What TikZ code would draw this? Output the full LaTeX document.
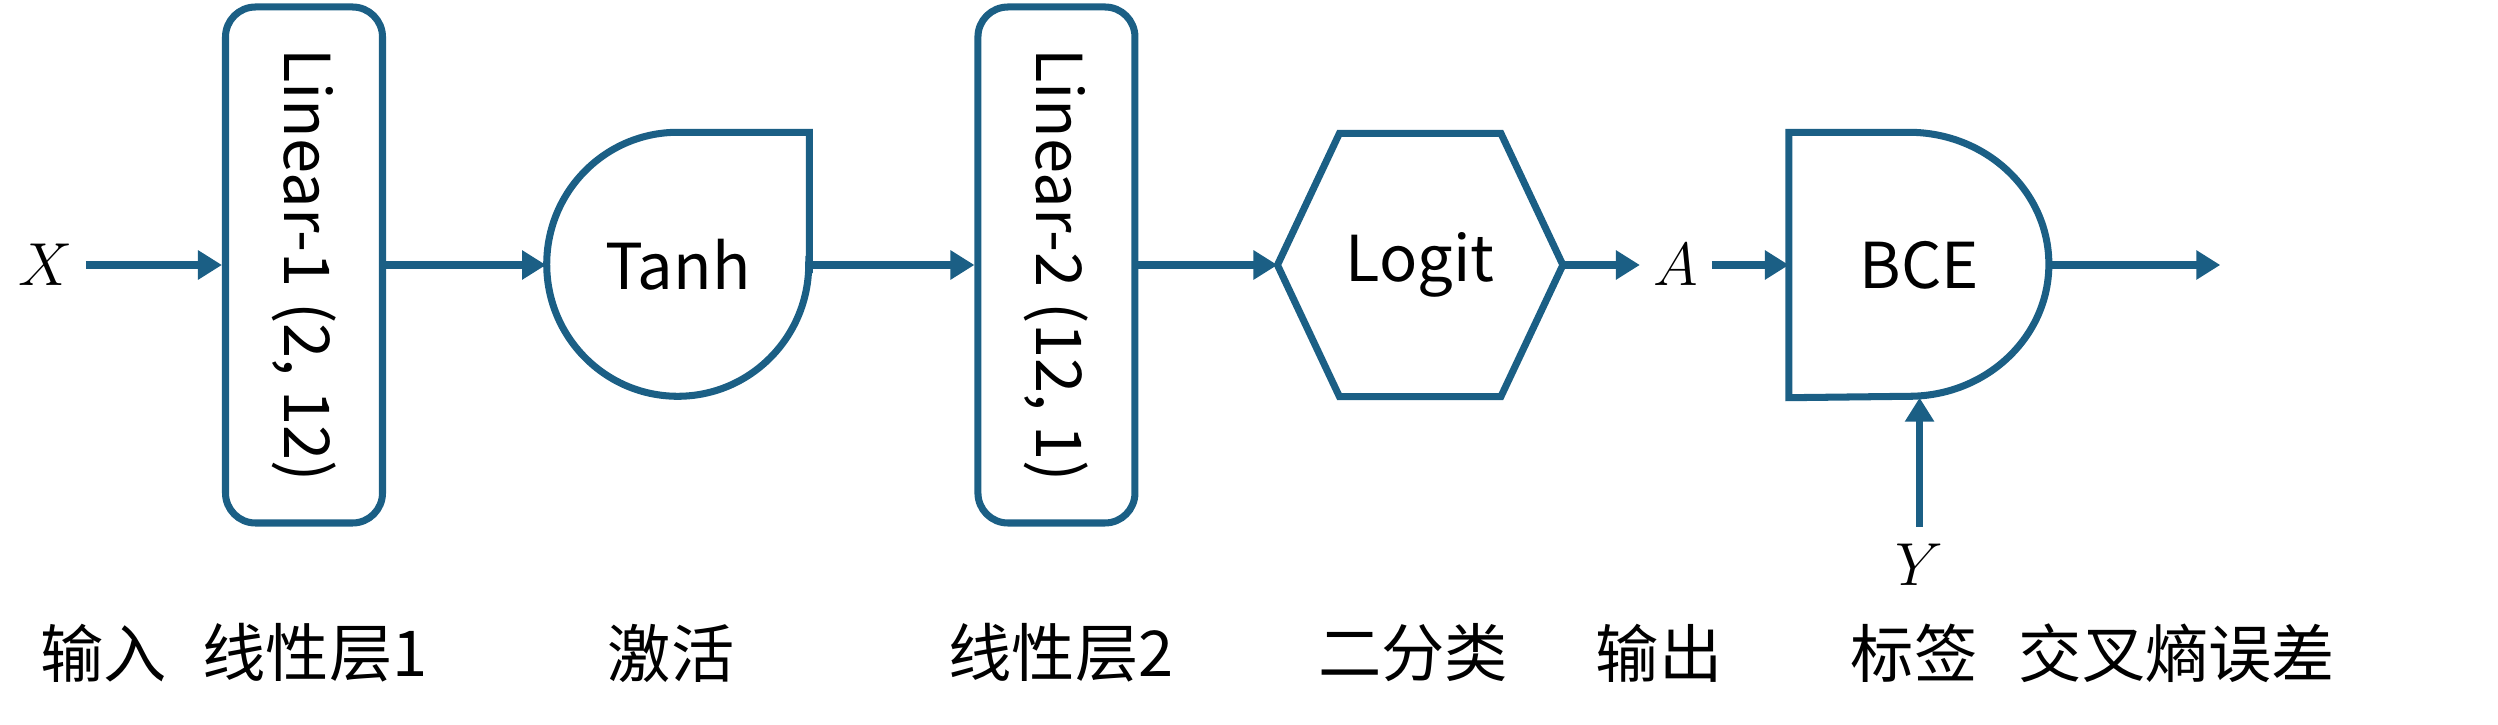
\documentclass[tikz,border=0pt]{standalone}
\usepackage{fontspec}
\setmainfont{Noto Sans CJK SC}
\usepackage{tikz}
\usetikzlibrary{arrows.meta,positioning,calc}
\definecolor{ink}{HTML}{1B5F85}

\begin{document}
\begin{tikzpicture}[
  font=\fontsize{18}{22}\selectfont,
  lin/.style={rectangle, rounded corners=0.3cm, draw=ink, line width=2pt,
              minimum width=1.57cm, minimum height=5.16cm, inner sep=0pt},
  shp/.style={rectangle, inner sep=0pt, minimum width=2.62cm, minimum height=2.64cm},
  outl/.style={draw=ink, line width=2pt, line join=miter},
  arr/.style={-{Triangle[length=0.24cm, width=0.28cm]}, line width=2.1pt, color=ink},
  var/.style={inner sep=0.13cm, font=\fontsize{18.5}{22}\selectfont},
  lbl/.style={anchor=center},
]
  \useasboundingbox (0,0) rectangle (24.98,7.25);
  % main chain
  \node[lin] (l1) at (3.04,4.6) {\rotatebox{-90}{Linear-1 (2, 12)}};
  \node[shp, right=1.60 of l1] (tanh) {Tanh};
  \node[lin, right=1.65 of tanh] (l2) {\rotatebox{-90}{Linear-2 (12, 1)}};
  \node[shp, minimum width=2.84cm, minimum height=2.62cm, right=1.39 of l2] (logit) {Logit};
  \node[shp, minimum width=2.60cm, right=2.26 of logit] (bce) {BCE};
  \node[var] (a) at ($(logit.east)!0.5!(bce.west)$) {$A$};
  \node[var, left=1.36 of l1] (x) {$X$};
  \node[var, inner sep=0.17cm, below=1.29 of bce.south, anchor=north] (y) {$Y$};
  \coordinate[right=1.70 of bce] (out);
  % outlines
  \draw[outl] (tanh.east) -- (tanh.north east) -- (tanh.north)
    arc[start angle=90, end angle=360, x radius=1.31, y radius=1.32] -- cycle;
  \draw[outl] (logit.west) -- ([xshift=0.62cm]logit.north west) -- ([xshift=-0.62cm]logit.north east)
    -- (logit.east) -- ([xshift=-0.62cm]logit.south east) -- ([xshift=0.62cm]logit.south west) -- cycle;
  \draw[outl] (bce.south west) -- (bce.north west) -- ++(1.20,0)
    arc[start angle=90, end angle=-90, x radius=1.40, y radius=1.32] -- cycle;
  % connectors
  \draw[arr] (x) -- (l1); \draw[arr] (l1) -- (tanh); \draw[arr] (tanh) -- (l2);
  \draw[arr] (l2) -- (logit); \draw[arr] (logit) -- (a); \draw[arr] (a) -- (bce);
  \draw[arr] (bce) -- (out); \draw[arr] (y) -- (bce.south);
  % captions
  \foreach \t/\x [count=\i] in {输入/1.04, 线性层1/3.15, 激活/6.71, 线性层2/10.61,
      二分类/14.13, 输出/16.59, 标签/19.14, 交叉熵误差/21.77}
    \node[lbl] (cap\i) at (\x,0.72) {\t};
\end{tikzpicture}
\end{document}
